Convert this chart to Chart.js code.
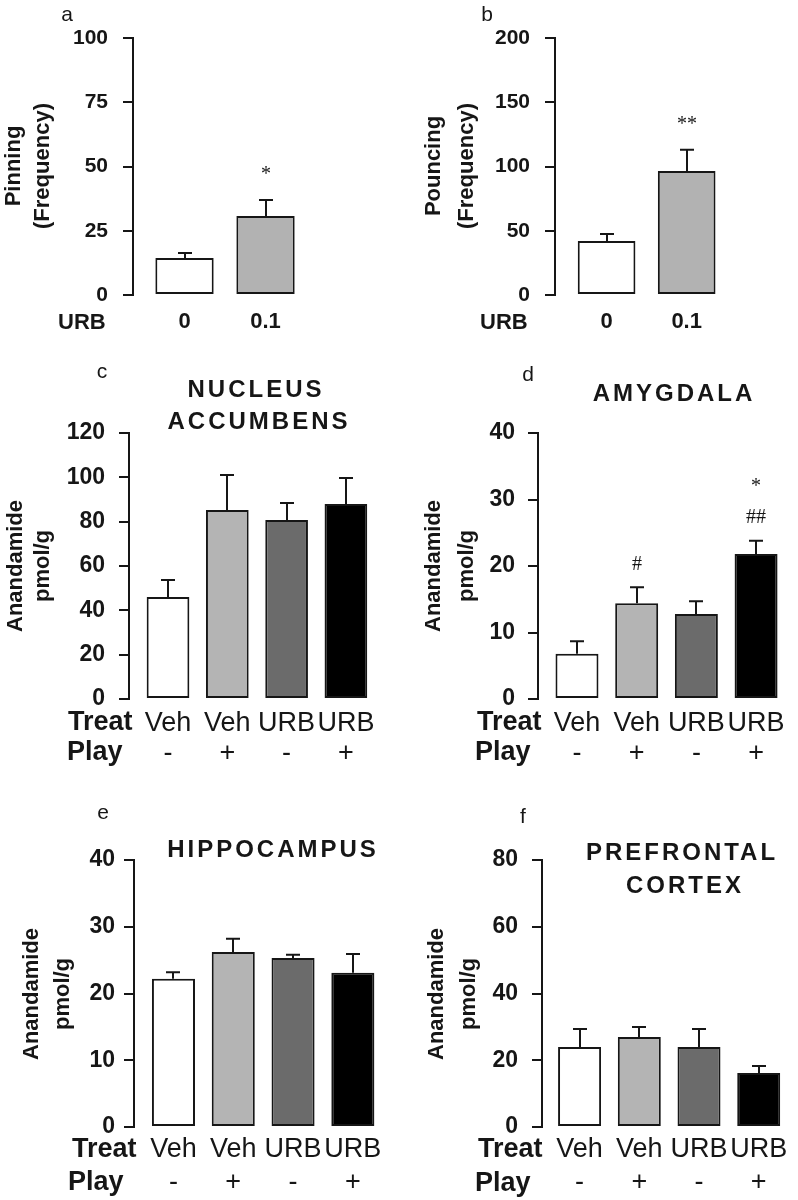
<!DOCTYPE html>
<html><head><meta charset="utf-8">
<script src="https://cdn.jsdelivr.net/npm/chart.js@4.4.1/dist/chart.umd.min.js"></script>
<style>
html,body{margin:0;padding:0;background:#fff;}
#wrap{position:relative;width:798px;height:1200px;overflow:hidden;background:#fff;}
#wrap canvas{position:absolute;}
</style></head><body><div id="wrap"></div>
<script>
// ---------- data ----------
const doseLabels = ["0", "0.1"];
const pinningMean = [14.4, 30.7];
const pinningSem = [1.9, 6.3];
const pinningSig = [[], ["*"]];
const pouncingMean = [42, 96.5];
const pouncingSem = [5.5, 16.5];
const pouncingSig = [[], ["**"]];

const treatLabels = ["Veh", "Veh", "URB", "URB"];
const playLabels = ["-", "+", "-", "+"];
const groupLabels = treatLabels.map((t, i) => [t, playLabels[i]]);

const naccMean = [46, 85.3, 80.8, 88];
const naccSem = [7.7, 15.7, 7.6, 11.7];
const naccSig = [[], [], [], []];
const amyMean = [6.8, 14.4, 12.8, 21.8];
const amySem = [1.9, 2.4, 1.9, 2.0];
const amySig = [[], ["#"], [], ["##", "*"]];
const hipMean = [22.2, 26.2, 25.3, 23.1];
const hipSem = [1.0, 2.0, 0.5, 2.8];
const hipSig = [[], [], [], []];
const pfcMean = [24, 27, 24, 16.2];
const pfcSem = [5.4, 3.0, 5.4, 2.1];
const pfcSig = [[], [], [], []];

// ---------- style ----------
const FONT = "'Liberation Sans', Arial, Helvetica, sans-serif";
const SERIF = "'Liberation Serif', 'Times New Roman', serif";
const INK = '#161616';
const colors2 = ['#ffffff', '#b2b2b2'];
const colors4 = ['#ffffff', '#b4b4b4', '#6b6b6b', '#000000'];

const errPlugin = {
  id: 'errs',
  afterDatasetsDraw(chart, args, o) {
    const ctx = chart.ctx, ys = chart.scales.y;
    const meta = chart.getDatasetMeta(0);
    ctx.save();
    ctx.strokeStyle = INK; ctx.lineWidth = 2;
    meta.data.forEach((bar, i) => {
      const v = o.mean[i], e = o.sem[i];
      const x = Math.round(bar.x);
      const y0 = ys.getPixelForValue(v), y1 = ys.getPixelForValue(v + e);
      ctx.beginPath();
      ctx.moveTo(x, y0); ctx.lineTo(x, y1);
      ctx.moveTo(x - o.cap, y1); ctx.lineTo(x + o.cap, y1);
      ctx.stroke();
      const marks = o.sig[i] || [];
      ctx.fillStyle = INK; ctx.font = o.sigFont;
      ctx.textAlign = 'center'; ctx.textBaseline = 'middle';
      marks.forEach((m, k) => ctx.fillText(m, x, y1 - o.sigGap - k * o.sigStep));
    });
    ctx.restore();
  }
};

const textPlugin = {
  id: 'texts',
  afterDraw(chart, args, o) {
    const ctx = chart.ctx;
    (o.items || []).forEach(it => {
      ctx.save();
      ctx.font = it.font; ctx.fillStyle = INK;
      ctx.textAlign = it.align || 'center'; ctx.textBaseline = 'middle';
      ctx.letterSpacing = (it.ls || 0) + 'px';
      ctx.translate(it.x, it.y);
      if (it.rot) ctx.rotate(it.rot);
      ctx.fillText(it.t, 0, 0);
      ctx.letterSpacing = '0px';
      ctx.restore();
    });
  }
};

const wrap = document.getElementById('wrap');
const ROT = -Math.PI / 2;
const fLetter = "21px " + FONT;
const fYTitle = "bold 22px " + FONT;
const fTitle = "bold 24px " + FONT;
const fRow = "bold 27px " + FONT;

function panel(cfg) {
  const c = document.createElement('canvas');
  c.width = cfg.w; c.height = cfg.h;
  c.style.left = cfg.left + 'px'; c.style.top = cfg.top + 'px';
  wrap.appendChild(c);
  const items = cfg.texts.map(t => Object.assign({}, t, { x: t.x - cfg.left, y: t.y - cfg.top }));
  new Chart(c, {
    type: 'bar',
    data: {
      datasets: [{
        data: cfg.mean.map((v, i) => ({ x: i, y: v })),
        backgroundColor: cfg.colors,
        borderColor: INK, borderWidth: 2, borderSkipped: false,
        barPercentage: 0.72, categoryPercentage: 1
      }]
    },
    options: {
      responsive: false, animation: false,
      layout: { padding: { left: 0, top: cfg.area.top - cfg.top, right: cfg.left + cfg.w - cfg.area.right, bottom: 0 } },
      plugins: {
        legend: { display: false }, tooltip: { enabled: false },
        errs: { mean: cfg.mean, sem: cfg.sem, sig: cfg.sig, cap: 7, sigFont: "20px " + SERIF, sigGap: cfg.sigGap, sigStep: cfg.sigStep || 31 },
        texts: { items }
      },
      scales: {
        x: {
          type: 'linear', min: cfg.xMin, max: cfg.xMax, offset: false,
          afterBuildTicks: s => { s.ticks = cfg.xLabels.map((_, i) => ({ value: i })); },
          ticks: { callback: v => cfg.xLabels[v], font: cfg.xFont, color: INK, padding: cfg.xPad, maxRotation: 0, minRotation: 0, autoSkip: false },
          grid: { display: false, drawTicks: false, offset: false }, border: { display: false },
          afterFit: s => { s.height = cfg.top + cfg.h - cfg.area.bottom; }
        },
        y: {
          min: 0, max: cfg.yMax,
          ticks: { stepSize: cfg.yStep, font: cfg.yFont, color: INK, padding: cfg.yPad },
          grid: { drawOnChartArea: false, drawTicks: true, tickLength: 10, color: INK, lineWidth: 2 },
          border: { display: true, color: INK, width: 2 },
          afterFit: s => { s.width = cfg.area.left - cfg.left; }
        }
      }
    },
    plugins: [errPlugin, textPlugin]
  });
}

const yFontSmall = { family: FONT, size: 21, weight: 'bold' };
const yFontBig = { family: FONT, size: 23, weight: 'bold' };
const xFontDose = { family: FONT, size: 22, weight: 'bold', lineHeight: 1.2 };
const xFontMid = { family: FONT, size: 27, lineHeight: 1.12 };
const xFontLow = { family: FONT, size: 27, lineHeight: 1.23 };

// a
panel({
  left: 0, top: 0, w: 399, h: 340, area: { left: 133, top: 38, bottom: 295, right: 330 },
  xMin: -0.636, xMax: 1.796, xLabels: doseLabels, xFont: xFontDose, xPad: 14,
  yMax: 100, yStep: 25, yFont: yFontSmall, yPad: 15,
  mean: pinningMean, sem: pinningSem, sig: pinningSig, sigGap: 25, colors: colors2,
  texts: [
    { t: 'a', x: 67, y: 15, font: fLetter },
    { t: 'Pinning', x: 14, y: 166, font: fYTitle, rot: ROT },
    { t: '(Frequency)', x: 43, y: 166, font: fYTitle, rot: ROT },
    { t: 'URB', x: 58, y: 323, font: "bold 22px " + FONT, align: 'left' }
  ]
});
// b
panel({
  left: 399, top: 0, w: 399, h: 340, area: { left: 555, top: 38, bottom: 295, right: 790 },
  xMin: -0.644, xMax: 2.29, xLabels: doseLabels, xFont: xFontDose, xPad: 14,
  yMax: 200, yStep: 50, yFont: yFontSmall, yPad: 15,
  mean: pouncingMean, sem: pouncingSem, sig: pouncingSig, sigGap: 25, colors: colors2,
  texts: [
    { t: 'b', x: 487, y: 15, font: fLetter },
    { t: 'Pouncing', x: 434, y: 166, font: fYTitle, rot: ROT },
    { t: '(Frequency)', x: 467, y: 166, font: fYTitle, rot: ROT },
    { t: 'URB', x: 480, y: 323, font: "bold 22px " + FONT, align: 'left' }
  ]
});
// c
panel({
  left: 0, top: 340, w: 399, h: 440, area: { left: 129, top: 433, bottom: 699, right: 395 },
  xMin: -0.658, xMax: 3.828, xLabels: groupLabels, xFont: xFontMid, xPad: 9,
  yMax: 120, yStep: 20, yFont: yFontBig, yPad: 14,
  mean: naccMean, sem: naccSem, sig: naccSig, sigGap: 23, colors: colors4,
  texts: [
    { t: 'c', x: 102, y: 372, font: fLetter },
    { t: 'NUCLEUS', x: 256, y: 390, font: fTitle, ls: 3 },
    { t: 'ACCUMBENS', x: 259, y: 422, font: fTitle, ls: 3 },
    { t: 'Anandamide', x: 16, y: 566, font: fYTitle, rot: ROT },
    { t: 'pmol/g', x: 43, y: 566, font: fYTitle, rot: ROT },
    { t: 'Treat', x: 68, y: 723, font: fRow, align: 'left' },
    { t: 'Play', x: 67, y: 753, font: fRow, align: 'left' }
  ]
});
// d
panel({
  left: 399, top: 340, w: 399, h: 440, area: { left: 538, top: 433, bottom: 699, right: 795 },
  xMin: -0.653, xMax: 3.652, xLabels: groupLabels, xFont: xFontMid, xPad: 9,
  yMax: 40, yStep: 10, yFont: yFontBig, yPad: 13,
  mean: amyMean, sem: amySem, sig: amySig, sigGap: 23, sigStep: 31, colors: colors4,
  texts: [
    { t: 'd', x: 528, y: 375, font: fLetter },
    { t: 'AMYGDALA', x: 674, y: 394, font: fTitle, ls: 3 },
    { t: 'Anandamide', x: 434, y: 566, font: fYTitle, rot: ROT },
    { t: 'pmol/g', x: 467, y: 566, font: fYTitle, rot: ROT },
    { t: 'Treat', x: 477, y: 723, font: fRow, align: 'left' },
    { t: 'Play', x: 475, y: 753, font: fRow, align: 'left' }
  ]
});
// e
panel({
  left: 0, top: 780, w: 399, h: 420, area: { left: 134, top: 860, bottom: 1127, right: 395 },
  xMin: -0.66, xMax: 3.705, xLabels: groupLabels, xFont: xFontLow, xPad: 6,
  yMax: 40, yStep: 10, yFont: yFontBig, yPad: 9,
  mean: hipMean, sem: hipSem, sig: hipSig, sigGap: 23, colors: colors4,
  texts: [
    { t: 'e', x: 103, y: 813, font: fLetter },
    { t: 'HIPPOCAMPUS', x: 273, y: 850, font: fTitle, ls: 3 },
    { t: 'Anandamide', x: 32, y: 994, font: fYTitle, rot: ROT },
    { t: 'pmol/g', x: 63, y: 994, font: fYTitle, rot: ROT },
    { t: 'Treat', x: 72, y: 1150, font: fRow, align: 'left' },
    { t: 'Play', x: 68, y: 1183, font: fRow, align: 'left' }
  ]
});
// f
panel({
  left: 399, top: 780, w: 399, h: 420, area: { left: 542, top: 860, bottom: 1127, right: 795 },
  xMin: -0.63, xMax: 3.608, xLabels: groupLabels, xFont: xFontLow, xPad: 6,
  yMax: 80, yStep: 20, yFont: yFontBig, yPad: 14,
  mean: pfcMean, sem: pfcSem, sig: pfcSig, sigGap: 23, colors: colors4,
  texts: [
    { t: 'f', x: 523, y: 817, font: fLetter },
    { t: 'PREFRONTAL', x: 682, y: 853, font: fTitle, ls: 3 },
    { t: 'CORTEX', x: 685, y: 886, font: fTitle, ls: 3 },
    { t: 'Anandamide', x: 437, y: 994, font: fYTitle, rot: ROT },
    { t: 'pmol/g', x: 469, y: 994, font: fYTitle, rot: ROT },
    { t: 'Treat', x: 478, y: 1150, font: fRow, align: 'left' },
    { t: 'Play', x: 475, y: 1184, font: fRow, align: 'left' }
  ]
});
</script>
</body></html>
